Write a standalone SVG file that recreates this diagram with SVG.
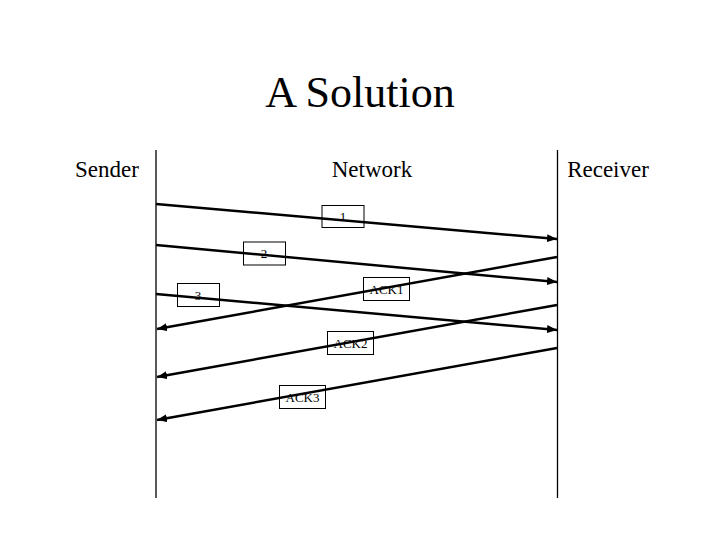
<svg xmlns="http://www.w3.org/2000/svg" width="720" height="540" viewBox="0 0 720 540">
<defs>
<style>
text{font-family:"Liberation Serif","Times New Roman",serif;fill:#000}
.title{font-size:44px}
.head{font-size:23px}
.lbl{font-size:13px}
.life{stroke:#000;stroke-width:1.3}
.msg{stroke:#000;stroke-width:2.5;fill:none;marker-end:url(#ah)}
.box{fill:none;stroke:#000;stroke-width:1}
</style>
<marker id="ah" viewBox="0 0 10 8" refX="10" refY="4" markerWidth="4" markerHeight="3.2" orient="auto" markerUnits="strokeWidth">
<path d="M0,0 L10,4 L0,8 z" fill="#000"/>
</marker>
</defs>
<rect width="720" height="540" fill="#fff"/>
<text class="title" x="360" y="107" text-anchor="middle">A Solution</text>
<g id="sender"><text class="head" x="107" y="177" text-anchor="middle">Sender</text><line class="life" x1="156" y1="150" x2="156" y2="498"/></g>
<g id="network"><text class="head" x="372" y="177" text-anchor="middle">Network</text></g>
<g id="receiver"><text class="head" x="608" y="177" text-anchor="middle">Receiver</text><line class="life" x1="557.5" y1="150" x2="557.5" y2="498"/></g>
<g id="connectors">
<line class="msg" x1="156" y1="204" x2="557" y2="239"/>
<line class="msg" x1="156" y1="245" x2="557" y2="282"/>
<line class="msg" x1="156" y1="294" x2="557" y2="330"/>
<line class="msg" x1="557" y1="257" x2="157" y2="329"/>
<line class="msg" x1="557" y1="305" x2="157" y2="377"/>
<line class="msg" x1="557" y1="348" x2="157" y2="420"/>
</g>
<g id="label1"><rect class="box" x="322" y="205.5" width="42" height="22"/><text class="lbl" x="343" y="221" text-anchor="middle">1</text></g>
<g id="label2"><rect class="box" x="243.5" y="242" width="42" height="23"/><text class="lbl" x="264" y="258" text-anchor="middle">2</text></g>
<g id="label3"><rect class="box" x="177.5" y="283.5" width="42" height="23"/><text class="lbl" x="198" y="300" text-anchor="middle">3</text></g>
<g id="ack1"><rect class="box" x="363.5" y="277.5" width="46" height="23"/><text class="lbl" x="386.5" y="294" text-anchor="middle">ACK1</text></g>
<g id="ack2"><rect class="box" x="327.5" y="331.5" width="46" height="23"/><text class="lbl" x="350.5" y="348" text-anchor="middle">ACK2</text></g>
<g id="ack3"><rect class="box" x="279.5" y="385.5" width="46" height="23"/><text class="lbl" x="302.5" y="402" text-anchor="middle">ACK3</text></g>
</svg>
